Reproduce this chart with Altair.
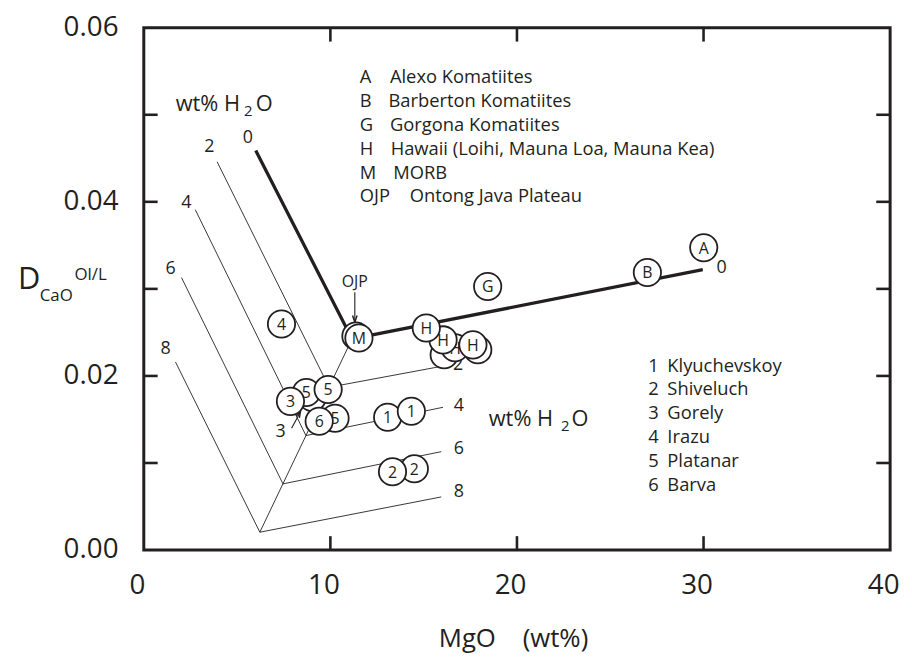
import altair as alt
import pandas as pd

INK = "#231f20"
FONT = "Open Sans"

# ---------------- data ----------------
# H2O isopleths (wt% H2O): upper-left end, vertex, right end
water = [0, 2, 4, 6, 8]
top_x = [6.00, 3.93, 2.76, 2.02, 1.70]
top_y = [0.0459, 0.0446, 0.0391, 0.0313, 0.0216]
vert_x = [11.16, 9.93, 8.69, 7.46, 6.22]
vert_y = [0.02425, 0.0187, 0.01315, 0.0076, 0.00205]
end_x = [29.96, 16.2, 16.04, 15.94, 15.94]
end_y = [0.0322, 0.0212, 0.0164, 0.0113, 0.0061]

# isopleth labels
lab_l_x = [5.58, 3.51, 2.28, 1.43, 1.17]
lab_l_y = [0.04736, 0.04634, 0.03985, 0.03233, 0.02311]
lab_r_x = [30.97, 16.84, 16.89, 16.89, 16.89]
lab_r_y = [0.03245, 0.02129, 0.01651, 0.01161, 0.00672]

# sample symbols, back to front
sym_label = ["A", "B", "G", "", "M", "", "", "H", "H", "H", "H", "4",
             "", "5", "5", "3", "5", "6", "1", "1", "2", "2"]
sym_x = [30.01, 26.99, 18.43, 11.37, 11.53, 16.10, 17.90, 16.68, 16.04, 15.14, 17.64, 7.38,
         9.03, 8.71, 9.88, 7.86, 10.25, 9.40, 13.07, 14.34, 14.50, 13.33]
sym_y = [0.03473, 0.03188, 0.03028, 0.02459, 0.02436, 0.02243, 0.02300, 0.02323, 0.02414,
         0.02550, 0.02357, 0.02596, 0.01753, 0.01810, 0.01844, 0.01708, 0.01514, 0.01480,
         0.01526, 0.01594, 0.00934, 0.00899]

# legends
leg1_key = ["A", "B", "G", "H", "M", "OJP"]
leg1_name = ["Alexo Komatiites", "Barberton Komatiites", "Gorgona Komatiites",
             "Hawaii (Loihi, Mauna Loa, Mauna Kea)", "MORB", "Ontong Java Plateau"]
leg2_key = ["1", "2", "3", "4", "5", "6"]
leg2_name = ["Klyuchevskoy", "Shiveluch", "Gorely", "Irazu", "Platanar", "Barva"]

x_labels = [0, 10, 20, 30, 40]
y_labels = [0.0, 0.02, 0.04, 0.06]
x_minor = [10, 20, 30]
y_minor = [0.01, 0.02, 0.03, 0.04, 0.05]

# ---------------- annotation placement ----------------
leg1_key_x = 11.58
leg1_name_x = [13.19, 13.11, 13.19, 13.23, 13.37, 14.25]
leg1_y = [0.05431, 0.05154, 0.04881, 0.04611, 0.04330, 0.04065]
leg2_key_x = 27.04
leg2_name_x = 28.06
leg2_y = [0.02118, 0.01844, 0.01571, 0.01294, 0.01028, 0.00743]

W, H = 753, 527

xscale = alt.Scale(domain=[0, 40], nice=False, zero=False)
yscale = alt.Scale(domain=[0, 0.06], nice=False, zero=False)
xaxis = alt.Axis(values=x_labels, title=None, ticks=False, domain=False, grid=False,
                 labelFontSize=28, labelFont=FONT, labelColor=INK, labelPadding=22,
                 labelFlush=False, labelOffset=-7, labelOverlap=False)
yaxis = alt.Axis(values=y_labels, title=None, ticks=False, domain=False, grid=False,
                 format=".2f", labelFontSize=28, labelFont=FONT, labelColor=INK,
                 labelPadding=26, labelOverlap=False)


def X(field="x"):
    return alt.X(f"{field}:Q", scale=xscale, axis=xaxis)


def Y(field="y"):
    return alt.Y(f"{field}:Q", scale=yscale, axis=yaxis)


layers = []

# isopleth lines
rows = []
for i, w in enumerate(water):
    rows.append({"s": f"w{w}", "o": 0, "w": w, "x": top_x[i], "y": top_y[i]})
    rows.append({"s": f"w{w}", "o": 1, "w": w, "x": vert_x[i], "y": vert_y[i]})
    rows.append({"s": f"w{w}", "o": 2, "w": w, "x": end_x[i], "y": end_y[i]})
rows.append({"s": "c", "o": 0, "w": -1, "x": vert_x[0], "y": vert_y[0]})
rows.append({"s": "c", "o": 1, "w": -1, "x": vert_x[-1], "y": vert_y[-1]})
lines = pd.DataFrame(rows)

thin = alt.Chart(lines).transform_filter("datum.w != 0").mark_line(
    color=INK, strokeWidth=0.9).encode(x=X(), y=Y(), detail="s:N", order="o:Q")
thick = alt.Chart(lines).transform_filter("datum.w == 0").mark_line(
    color=INK, strokeWidth=3.3).encode(x=X(), y=Y(), detail="s:N", order="o:Q")
layers += [thin, thick]

# isopleth labels
wl = pd.DataFrame({"t": [str(w) for w in water] * 2,
                   "x": lab_l_x + lab_r_x, "y": lab_l_y + lab_r_y})
layers.append(alt.Chart(wl).mark_text(font=FONT, fontSize=18, color=INK, baseline="middle",
                                      align="center").encode(x=X(), y=Y(), text="t:N"))

# inward ticks
xt = pd.DataFrame({"x": x_minor})
yt = pd.DataFrame({"y": y_minor})
tk = dict(color=INK, strokeWidth=2.6)
layers.append(alt.Chart(yt).mark_rule(**tk).encode(y=Y(), x=alt.value(0), x2=alt.value(14)))
layers.append(alt.Chart(yt).mark_rule(**tk).encode(y=Y(), x=alt.value(W), x2=alt.value(W - 14)))
layers.append(alt.Chart(xt).mark_rule(**tk).encode(x=X(), y=alt.value(H), y2=alt.value(H - 14)))
layers.append(alt.Chart(xt).mark_rule(**tk).encode(x=X(), y=alt.value(0), y2=alt.value(14)))

# OJP label + arrow
ojp = pd.DataFrame({"t": ["OJP"], "x": [11.31], "y": [0.03074]})
layers.append(alt.Chart(ojp).mark_text(font=FONT, fontSize=16, color=INK, baseline="middle")
              .encode(x=X(), y=Y(), text="t:N"))
arr = pd.DataFrame({"s": ["a", "a", "b", "b"], "o": [0, 1, 0, 1],
                    "x": [11.31, 11.31, 7.92, 8.39], "y": [0.02960, 0.02619, 0.01400, 0.01583]})
layers.append(alt.Chart(arr).mark_line(color=INK, strokeWidth=1.1)
              .encode(x=X(), y=Y(), detail="s:N", order="o:Q"))
head = "M-0.6,1.7L0,0L0.6,1.7"
layers.append(alt.Chart(pd.DataFrame({"x": [11.31], "y": [0.02619]}))
              .mark_point(shape=head, filled=False, color=INK, strokeWidth=1.4, size=60, angle=180, opacity=1)
              .encode(x=X(), y=Y()))
layers.append(alt.Chart(pd.DataFrame({"x": [8.39], "y": [0.01583]}))
              .mark_point(shape=head, filled=False, color=INK, strokeWidth=1.4, size=40, angle=29, opacity=1)
              .encode(x=X(), y=Y()))
layers.append(alt.Chart(pd.DataFrame({"t": ["3"], "x": [7.33], "y": [0.01355]}))
              .mark_text(font=FONT, fontSize=18, color=INK, baseline="middle")
              .encode(x=X(), y=Y(), text="t:N"))

# symbols, interleaved circle + label so later ones cover earlier ones
sym = pd.DataFrame({"i": list(range(len(sym_label))), "t": sym_label, "x": sym_x, "y": sym_y})
for i in range(len(sym_label)):
    base = alt.Chart(sym).transform_filter(f"datum.i == {i}")
    layers.append(base.mark_point(shape="circle", filled=True, fill="white", stroke=INK,
                                  strokeWidth=1.8, size=760, opacity=1).encode(x=X(), y=Y()))
    if sym_label[i]:
        layers.append(base.mark_text(font=FONT, fontSize=16, color=INK, baseline="middle",
                                     dy=1).encode(x=X(), y=Y(), text="t:N"))

# legends
l1k = pd.DataFrame({"t": leg1_key, "x": [leg1_key_x] * 6, "y": leg1_y})
l1n = pd.DataFrame({"t": leg1_name, "x": leg1_name_x, "y": leg1_y})
l2k = pd.DataFrame({"t": leg2_key, "x": [leg2_key_x] * 6, "y": leg2_y})
l2n = pd.DataFrame({"t": leg2_name, "x": [leg2_name_x] * 6, "y": leg2_y})
for d in (l1k, l1n, l2k, l2n):
    layers.append(alt.Chart(d).mark_text(font=FONT, fontSize=18.5, color=INK, align="left",
                                         baseline="middle").encode(x=X(), y=Y(), text="t:N"))

# wt% H2O labels ("wt% H" right-aligned at the H, then subscript 2, then O)
wt = pd.DataFrame({"t": ["wt% H", "wt% H"], "x": [5.16, 21.94], "y": [0.05123, 0.01503]})
wo = pd.DataFrame({"t": ["O", "O"], "x": [6.00, 22.93], "y": [0.05123, 0.01503]})
sub = pd.DataFrame({"t": ["2", "2"], "x": [5.37, 22.36], "y": [0.05040, 0.01430]})
layers.append(alt.Chart(wt).mark_text(font=FONT, fontSize=22, color=INK, align="right",
                                      baseline="middle").encode(x=X(), y=Y(), text="t:N"))
layers.append(alt.Chart(wo).mark_text(font=FONT, fontSize=22, color=INK, align="left",
                                      baseline="middle").encode(x=X(), y=Y(), text="t:N"))
layers.append(alt.Chart(sub).mark_text(font=FONT, fontSize=15, color=INK, align="left",
                                       baseline="middle").encode(x=X(), y=Y(), text="t:N"))


# axis titles (drawn as text for sub/superscripts)
def free_text(t, px, py, size, align="left", baseline="alphabetic"):
    return alt.Chart(pd.DataFrame({"t": [t]})).mark_text(
        font=FONT, fontSize=size, color=INK, align=align, baseline=baseline
    ).encode(text="t:N", x=alt.value(px), y=alt.value(py))


layers.append(free_text("MgO\u00a0\u00a0\u00a0\u00a0(wt%)", 518 - 145, 650 - 25, 26, align="center"))
layers.append(free_text("D", 18 - 145, 289 - 25, 31))
layers.append(free_text("CaO", 40 - 145, 301 - 25, 17))
layers.append(free_text("Ol/L", 75 - 145, 280 - 25, 17))

chart = alt.layer(*layers).properties(
    width=W, height=H,
    background="white",
    autosize=alt.AutoSizeParams(type="none"),
    padding={"left": 137, "top": 17, "right": 14, "bottom": 103},
).configure_view(stroke=INK, strokeWidth=3)

chart.save("out.html", embed_options={"renderer": "svg", "actions": False})
